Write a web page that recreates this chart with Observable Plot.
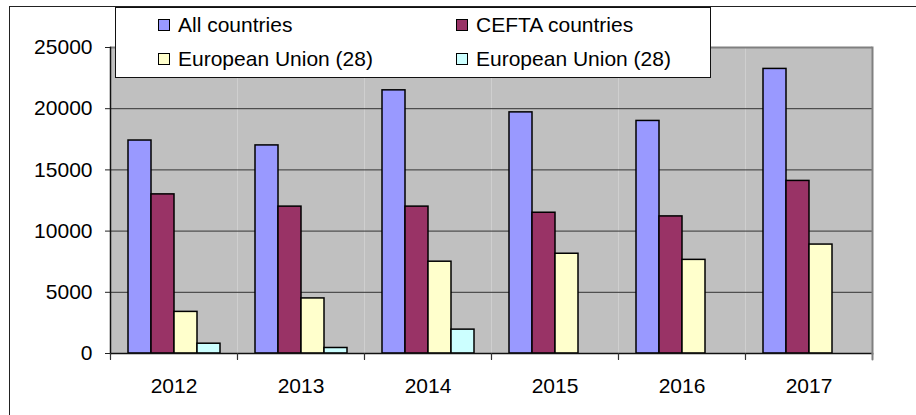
<!DOCTYPE html>
<html>
<head>
<meta charset="utf-8">
<script src="https://cdn.jsdelivr.net/npm/d3@7"></script>
<script src="https://cdn.jsdelivr.net/npm/@observablehq/plot@0.6"></script>
<style>
  html, body { margin: 0; padding: 0; background: #fff; }
  #wrap { position: relative; width: 916px; height: 415px; overflow: hidden; font-family: "Liberation Sans", Arial, sans-serif; }
  #outer { position: absolute; left: 9px; top: 6px; width: 1000px; height: 1000px; border-left: 1.5px solid #222; border-top: 1.5px solid #222; pointer-events: none; z-index: 3; }
  #legend { position: absolute; left: 115px; top: 7px; width: 596px; height: 71px; background: #fff; border: 1px solid #111; box-sizing: border-box; z-index: 2; }
  .item { position: absolute; height: 34px; display: flex; align-items: center; font-size: 21px; color: #000; white-space: nowrap; }
  .sw { width: 10px; height: 10px; border: 1px solid #000; margin-right: 8px; }
  #chart { position: absolute; left: 0; top: 0; z-index: 1; }
</style>
</head>
<body>
<div id="wrap">
  <div id="chart"></div>
  <div id="legend"></div>
  <div id="outer"></div>
</div>
<script>
const years = ["2012", "2013", "2014", "2015", "2016", "2017"];
const seriesKeys = ["all", "cefta", "eu28", "eu28b"];
const seriesLabels = ["All countries", "CEFTA countries", "European Union (28)", "European Union (28)"];
const seriesColors = ["#9999FF", "#993366", "#FFFFCC", "#CCFFFF"];
const allCountries = [17400, 17000, 21500, 19700, 19000, 23250];
const ceftaCountries = [13000, 12000, 12000, 11500, 11200, 14100];
const europeanUnion = [3400, 4500, 7500, 8150, 7650, 8900];
const europeanUnion2 = [800, 450, 1950, null, null, null];
const yTicks = [0, 5000, 10000, 15000, 20000, 25000];

const seriesValues = [allCountries, ceftaCountries, europeanUnion, europeanUnion2];
const data = years.flatMap((yr, i) =>
  seriesKeys.map((k, j) => ({ year: yr, series: k, value: seriesValues[j][i] }))
).filter(d => d.value != null);

const plot = Plot.plot({
  width: 916,
  height: 415,
  marginLeft: 110,
  marginRight: 44,
  marginTop: 47,
  marginBottom: 62,
  style: { fontFamily: "Liberation Sans, Arial, sans-serif", fontSize: "21px", background: "transparent", color: "#000", overflow: "visible" },
  fx: { domain: years, padding: 0, label: null },
  x: { domain: seriesKeys, paddingInner: 0, paddingOuter: 0.7, axis: null },
  y: { domain: [0, 25000], label: null },
  color: { domain: seriesKeys, range: seriesColors },
  marks: [
    Plot.frame({ fill: "#C0C0C0", stroke: null }),
    Plot.gridY({ ticks: yTicks, stroke: "#333", strokeOpacity: 1, strokeWidth: 1 }),
    Plot.ruleY([25000], { stroke: "#808080", strokeWidth: 2 }),
    Plot.barY(data, { fx: "year", x: "series", y: "value", fill: "series", stroke: "#000", strokeWidth: 1.5, inset: 0 }),
    Plot.ruleY([0], { stroke: "#111", strokeWidth: 1.5 }),
    Plot.frame({ anchor: "right", facetAnchor: "right", stroke: "#808080", strokeWidth: 2 }),
    Plot.frame({ anchor: "left", facetAnchor: "left", stroke: "#111", strokeWidth: 1.5 }),
    Plot.vector([0], { frameAnchor: "bottom-left", length: 6, rotate: 180, anchor: "start", shape: "spike", r: 0.01, stroke: "#333", strokeWidth: 1.2 }),
    Plot.vector([0], { frameAnchor: "bottom-right", facetAnchor: "right", length: 6, rotate: 180, anchor: "start", shape: "spike", r: 0.01, stroke: "#808080", strokeWidth: 2 }),
    Plot.axisY({ ticks: yTicks, tickFormat: d3.format("d"), tickSize: 5, tickPadding: 13, fontSize: 21, label: null, stroke: "#222" }),
    Plot.axisFx({ anchor: "bottom", tickSize: 0, tickPadding: 25, fontSize: 21, label: null })
  ]
});
document.getElementById("chart").appendChild(plot);

const legend = document.getElementById("legend");
const legendPos = [[42, 0], [340, 0], [42, 34], [340, 34]];
seriesLabels.forEach((lab, i) => {
  const it = document.createElement("div");
  it.className = "item";
  it.style.left = legendPos[i][0] + "px";
  it.style.top = legendPos[i][1] + "px";
  const sw = document.createElement("div");
  sw.className = "sw";
  sw.style.background = seriesColors[i];
  const tx = document.createElement("span");
  tx.textContent = lab;
  it.appendChild(sw);
  it.appendChild(tx);
  legend.appendChild(it);
});
</script>
</body>
</html>
